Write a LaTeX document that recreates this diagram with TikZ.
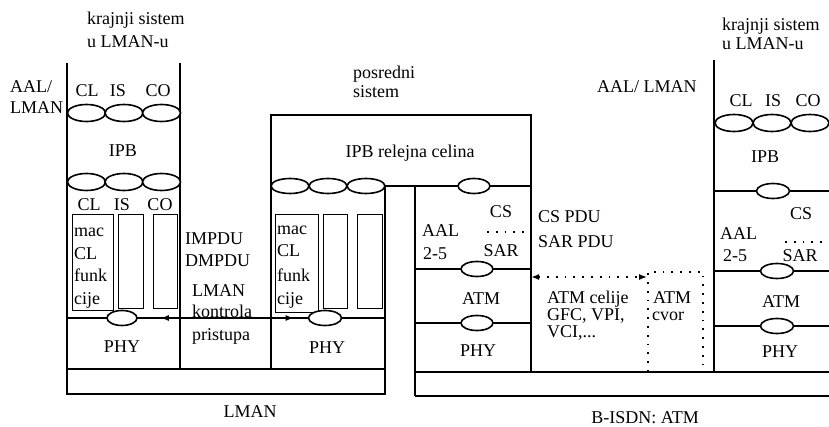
\documentclass[tikz,border=0pt]{standalone}
\usepackage{fontspec}
\setmainfont{Liberation Serif}
\usetikzlibrary{arrows.meta,positioning,shapes.geometric}
\tikzset{
  >={Latex[length=8pt,width=6pt]},
  wall/.style={line width=1.3pt},
  thin box/.style={draw,line width=1pt},
  sap/.style={ellipse,draw,line width=1.6pt,fill=white,inner sep=0pt,
    minimum width=#1,minimum height=15pt},
  sap/.default=32pt,
  big sap/.style={sap=38pt,minimum height=17pt},
  txt/.style={font=\fontsize{18}{22}\selectfont,inner sep=0pt,anchor=base},
  ltxt/.style={txt,anchor=base west},
  dots/.style={line width=1.8pt,dash pattern=on 1.8pt off 7pt},
  flow/.style={<->,line width=1.3pt},
}
\begin{document}
\begin{tikzpicture}[x=1pt,y=-1pt]
  \useasboundingbox (0,0) rectangle (829,427);
  % krajnji sistem, levo
  \draw[wall] (67,63) -- (67,369) (180,63) -- (180,369) (67,318) -- (180,318);
  \draw[thin box] (72,215) rectangle (113,310) (118,215) rectangle (143,308) (153,215) rectangle (177,308);
  \foreach \x/\lx/\t [count=\i] in {86.5/87/CL,124/118/IS,161.5/158/CO} {
    \node[big sap] (la\i) at (\x,113) {};
    \node[big sap] (lb\i) at (\x,182) {};
    \node[txt] (lat\i) at (\lx,97) {\t};
  }
  \foreach \x/\t [count=\i] in {89/CL,122/IS,160/CO} \node[txt] (lbt\i) at (\x,211) {\t};
  \node[ltxt] (kL1) at (87,25) {krajnji sistem};
  \node[ltxt] (kL2) at (87,48) {u LMAN-u};
  \node[ltxt] (aalL1) at (10,93) {AAL/};
  \node[ltxt] (aalL2) at (10,114) {LMAN};
  \node[txt] (ipbL) at (123,157) {IPB};
  \foreach \t/\y [count=\i] in {mac/237,CL/260,funk/282,cije/305} \node[ltxt] (macL\i) at (74,\y) {\t};
  \node[sap=30pt] (phyL) at (122,318) {};
  \node[txt] (phyLt) at (122,352) {PHY};
  % LMAN PDU
  \foreach \t/\y [count=\i] in {IMPDU/245,DMPDU/267} \node[ltxt] (pdu\i) at (185,\y) {\t};
  \foreach \t/\y [count=\i] in {LMAN/297,kontrola/317,pristupa/340} \node[ltxt] (ctl\i) at (192,\y) {\t};
  % posredni sistem
  \node[ltxt] (pos1) at (353,79) {posredni};
  \node[ltxt] (pos2) at (353,98) {sistem};
  \draw[wall] (271,115) rectangle (531,186);
  \node[txt] (relej) at (410,158) {IPB relejna celina};
  \draw[wall] (271,186) -- (271,369) (385,186) -- (385,394) (271,318) -- (385,318);
  \draw[wall] (67,369) rectangle (385,394);
  \draw[thin box] (275,215) rectangle (318,312) (323,215) rectangle (347,308) (357,215) rectangle (382,308);
  \foreach \t/\y [count=\i] in {mac/235,CL/257,funk/282,cije/305} \node[ltxt] (macM\i) at (277,\y) {\t};
  \foreach \x [count=\i] in {290,328,366} \node[sap=38pt] (ma\i) at (\x,186) {};
  \node[sap] (ipbM) at (474,186) {};
  \node[sap=33pt] (phyM) at (325,318) {};
  \node[txt] (phyMt) at (327,353) {PHY};
  \node[txt] (lman) at (250,417) {LMAN};
  \draw[wall] (415,186) -- (415,396) (531,186) -- (531,372) (415,269) -- (531,269) (415,323) -- (531,323);
  \draw[dots] (487,232) -- (528,232);
  \node[txt] (csM) at (501,218) {CS};
  \node[txt] (sarM) at (501,257) {SAR};
  \node[ltxt] (aalM1) at (422,237) {AAL};
  \node[ltxt] (aalM2) at (423,260) {2-5};
  \node[sap] (atmMa) at (477,269) {};
  \node[sap] (atmMb) at (477,323) {};
  \node[txt] (atmMt) at (481,305) {ATM};
  \node[txt] (phyAt) at (478,356) {PHY};
  % ATM celije i cvor
  \node[ltxt] (cspdu) at (538,223) {CS PDU};
  \node[ltxt] (sarpdu) at (538,248) {SAR PDU};
  \foreach \t/\y [count=\i] in {ATM celije/303,{GFC, VPI,}/320,{VCI,...}/337} \node[ltxt] (cel\i) at (547,\y) {\t};
  \node[dots,draw,minimum width=55pt,minimum height=100pt,inner sep=0pt] (cvor) at (675.5,322) {};
  \node[ltxt] (cvor1) at (653,303) {ATM};
  \node[ltxt] (cvor2) at (652,320) {cvor};
  \coordinate (atmE) at (531,277);
  \draw[dots,<->] (atmE) -- (atmE -| cvor.west);
  \draw[wall] (415,372) -- (835,372) (415,396) -- (835,396);
  \node[txt] (bisdn) at (645,423) {B-ISDN: ATM};
  % krajnji sistem, desno
  \draw[wall] (714,60) -- (714,372) (714,191) -- (835,191) (714,271) -- (835,271) (714,326) -- (835,326);
  \draw[dots] (785,242) -- (835,242);
  \node[ltxt] (kR1) at (722,31) {krajnji sistem};
  \node[ltxt] (kR2) at (722,50) {u LMAN-u};
  \node[ltxt] (aalR) at (597,93) {AAL/ LMAN};
  \foreach \x/\lx/\t [count=\i] in {734/741/CL,772/773/IS,810/808/CO} {
    \node[big sap] (ra\i) at (\x,123) {};
    \node[txt] (rat\i) at (\lx,107) {\t};
  }
  \node[txt] (ipbR) at (765,163) {IPB};
  \node[sap=33pt] (ipbRs) at (773,191) {};
  \node[txt] (csR) at (801,220) {CS};
  \node[ltxt] (aalR1) at (720,240) {AAL};
  \node[ltxt] (aalR2) at (723,262) {2-5};
  \node[txt] (sarR) at (800,262) {SAR};
  \node[sap=33pt] (atmRa) at (777,271) {};
  \node[sap=33pt] (atmRb) at (777,326) {};
  \node[txt] (atmRt) at (781,308) {ATM};
  \node[txt] (phyRt) at (780,357) {PHY};
  \draw[flow,shorten <=23pt,shorten >=14pt] (phyL) -- (phyM);
\end{tikzpicture}
\end{document}
